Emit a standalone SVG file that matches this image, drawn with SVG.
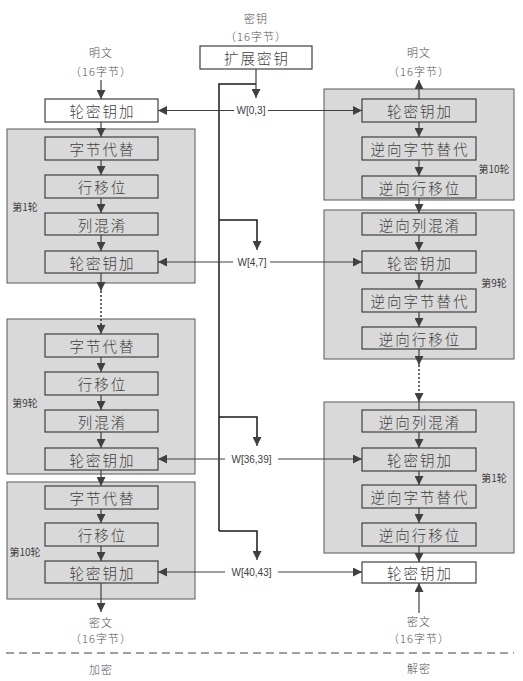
<svg xmlns="http://www.w3.org/2000/svg" width="523" height="681" viewBox="0 0 523 681">
<defs>
<marker id="ah" markerUnits="userSpaceOnUse" markerWidth="9" markerHeight="9" refX="9" refY="4.5" orient="auto">
<path d="M0,0 L9,4.5 L0,9 z" fill="#404040"/>
</marker>
<style>
.round{fill:#d9d9d9;stroke:#595959;stroke-width:1}
.op{fill:#d9d9d9;stroke:#404040;stroke-width:1.2}
.opw{fill:#ffffff;stroke:#404040;stroke-width:1.2}
.t{font-family:"Noto Sans CJK SC","Noto Sans CJK JP",sans-serif;font-size:14.5px;font-weight:300;letter-spacing:2px;fill:#404040;text-anchor:middle;dominant-baseline:central}
.s{font-family:"Noto Sans CJK SC","Noto Sans CJK JP",sans-serif;font-size:11px;font-weight:300;letter-spacing:1px;fill:#505050;text-anchor:middle;dominant-baseline:central}
.r{font-family:"Noto Sans CJK SC","Noto Sans CJK JP",sans-serif;font-size:10px;fill:#404040;text-anchor:middle;dominant-baseline:central}
.w{font-family:"Liberation Sans","Noto Sans",sans-serif;font-size:10px;fill:#404040;text-anchor:middle;dominant-baseline:central}
.c{stroke:#404040;stroke-width:1.2;fill:none}
.ca{stroke:#404040;stroke-width:1.2;fill:none;marker-end:url(#ah)}
.dot{stroke:#404040;stroke-width:1.6;fill:none;stroke-dasharray:2 2}
.key{stroke:#1a1a1a;stroke-width:1.5;fill:none}
.dash{stroke:#404040;stroke-width:1;fill:none;stroke-dasharray:8 5}
</style>
</defs>

<!-- Round containers -->
<g id="enc-round1"><rect class="round" x="7" y="129" width="188" height="154"/><text class="r" x="25" y="206">第1轮</text></g>
<g id="enc-round9"><rect class="round" x="7" y="319" width="188" height="155"/><text class="r" x="25" y="402">第9轮</text></g>
<g id="enc-round10"><rect class="round" x="7" y="482" width="188" height="117"/><text class="r" x="25" y="551">第10轮</text></g>
<g id="dec-round10"><rect class="round" x="324" y="89" width="190" height="111"/><text class="r" x="494" y="168">第10轮</text></g>
<g id="dec-round9"><rect class="round" x="324" y="210" width="190" height="149"/><text class="r" x="494" y="282">第9轮</text></g>
<g id="dec-round1"><rect class="round" x="324" y="402" width="190" height="151"/><text class="r" x="494" y="477">第1轮</text></g>

<!-- Connectors -->
<g id="connectors">
<!-- encryption column -->
<line class="ca" x1="101" y1="80" x2="101" y2="99"/>
<line class="ca" x1="101" y1="122" x2="101" y2="137"/>
<line class="ca" x1="101" y1="160" x2="101" y2="175"/>
<line class="ca" x1="101" y1="198" x2="101" y2="213"/>
<line class="ca" x1="101" y1="235" x2="101" y2="251"/>
<line class="ca" x1="101" y1="273" x2="101" y2="291"/>
<line class="dot" x1="101" y1="291" x2="101" y2="325"/>
<line class="ca" x1="101" y1="324" x2="101" y2="334"/>
<line class="ca" x1="101" y1="357" x2="101" y2="372"/>
<line class="ca" x1="101" y1="395" x2="101" y2="410"/>
<line class="ca" x1="101" y1="432" x2="101" y2="448"/>
<line class="ca" x1="101" y1="470" x2="101" y2="486"/>
<line class="ca" x1="101" y1="509" x2="101" y2="523"/>
<line class="ca" x1="101" y1="546" x2="101" y2="561"/>
<line class="ca" x1="101" y1="583" x2="101" y2="612"/>
<!-- decryption column -->
<line class="ca" x1="419" y1="99" x2="419" y2="80"/>
<line class="ca" x1="419" y1="122" x2="419" y2="137"/>
<line class="ca" x1="419" y1="160" x2="419" y2="176"/>
<line class="ca" x1="419" y1="198" x2="419" y2="213"/>
<line class="ca" x1="419" y1="235" x2="419" y2="251"/>
<line class="ca" x1="419" y1="273" x2="419" y2="289"/>
<line class="ca" x1="419" y1="312" x2="419" y2="327"/>
<line class="ca" x1="419" y1="349" x2="419" y2="365"/>
<line class="dot" x1="419" y1="365" x2="419" y2="395"/>
<line class="ca" x1="419" y1="393" x2="419" y2="402"/>
<line class="c" x1="419" y1="402" x2="419" y2="410"/>
<line class="ca" x1="419" y1="432" x2="419" y2="448"/>
<line class="ca" x1="419" y1="471" x2="419" y2="485"/>
<line class="ca" x1="419" y1="508" x2="419" y2="523"/>
<line class="ca" x1="419" y1="546" x2="419" y2="562"/>
<line class="ca" x1="419" y1="613" x2="419" y2="583"/>
<!-- key schedule -->
<line class="ca" x1="256" y1="69" x2="256" y2="98"/>
<polyline class="key" points="256,84 219,84 219,531"/>
<polyline class="key" points="219,220 257,220 257,242"/>
<line class="ca" x1="257" y1="240" x2="257" y2="250"/>
<polyline class="key" points="219,417 257,417 257,437"/>
<line class="ca" x1="257" y1="435" x2="257" y2="446"/>
<polyline class="key" points="219,531 257,531 257,551"/>
<line class="ca" x1="257" y1="549" x2="257" y2="560"/>
<!-- round key arrows -->
<line class="ca" x1="234" y1="110.5" x2="158" y2="110.5"/>
<line class="ca" x1="268" y1="110.5" x2="362" y2="110.5"/>
<line class="ca" x1="233" y1="262" x2="158" y2="262"/>
<line class="ca" x1="270" y1="262" x2="362" y2="262"/>
<line class="ca" x1="225" y1="459" x2="158" y2="459"/>
<line class="ca" x1="278" y1="459" x2="362" y2="459"/>
<line class="ca" x1="225" y1="572" x2="158" y2="572"/>
<line class="ca" x1="278" y1="572" x2="362" y2="572"/>
<!-- divider -->
<line class="dash" x1="6" y1="653" x2="514" y2="653"/>
</g>

<!-- Labels -->
<g id="key-input"><text class="s" x="256" y="18">密钥</text><text class="s" x="256" y="36">（16字节）</text></g>
<g id="pt-in"><text class="s" x="101" y="52">明文</text><text class="s" x="101" y="71">（16字节）</text></g>
<g id="pt-out"><text class="s" x="419" y="52">明文</text><text class="s" x="419" y="71">（16字节）</text></g>
<g id="ct-out"><text class="s" x="101" y="622">密文</text><text class="s" x="101" y="638">（16字节）</text></g>
<g id="ct-in"><text class="s" x="419" y="621">密文</text><text class="s" x="419" y="638">（16字节）</text></g>
<g id="enc-label"><text class="s" x="101" y="669">加密</text></g>
<g id="dec-label"><text class="s" x="419" y="668">解密</text></g>
<g id="w03"><text class="w" x="251" y="110.5">W[0,3]</text></g>
<g id="w47"><text class="w" x="252" y="262">W[4,7]</text></g>
<g id="w3639"><text class="w" x="251.5" y="459">W[36,39]</text></g>
<g id="w4043"><text class="w" x="251.5" y="572">W[40,43]</text></g>

<!-- Key expansion -->
<g id="expand-key"><rect class="opw" x="200" y="46" width="112" height="23"/><text class="t" x="257" y="57.5">扩展密钥</text></g>

<!-- Encryption nodes -->
<g id="e-ark0"><rect class="opw" x="45" y="99" width="113" height="23"/><text class="t" x="102.5" y="110.5">轮密钥加</text></g>
<g id="e1-sub"><rect class="op" x="45" y="137" width="113" height="23"/><text class="t" x="102.5" y="148.5">字节代替</text></g>
<g id="e1-shift"><rect class="op" x="45" y="175" width="113" height="23"/><text class="t" x="102.5" y="186.5">行移位</text></g>
<g id="e1-mix"><rect class="op" x="45" y="213" width="113" height="22"/><text class="t" x="102.5" y="224">列混淆</text></g>
<g id="e1-ark"><rect class="op" x="45" y="251" width="113" height="22"/><text class="t" x="102.5" y="262">轮密钥加</text></g>
<g id="e9-sub"><rect class="op" x="45" y="334" width="113" height="23"/><text class="t" x="102.5" y="345.5">字节代替</text></g>
<g id="e9-shift"><rect class="op" x="45" y="372" width="113" height="23"/><text class="t" x="102.5" y="383.5">行移位</text></g>
<g id="e9-mix"><rect class="op" x="45" y="410" width="113" height="22"/><text class="t" x="102.5" y="421">列混淆</text></g>
<g id="e9-ark"><rect class="op" x="45" y="448" width="113" height="22"/><text class="t" x="102.5" y="459">轮密钥加</text></g>
<g id="e10-sub"><rect class="op" x="45" y="486" width="113" height="23"/><text class="t" x="102.5" y="497.5">字节代替</text></g>
<g id="e10-shift"><rect class="op" x="45" y="523" width="113" height="23"/><text class="t" x="102.5" y="534.5">行移位</text></g>
<g id="e10-ark"><rect class="op" x="45" y="561" width="113" height="22"/><text class="t" x="102.5" y="572">轮密钥加</text></g>

<!-- Decryption nodes -->
<g id="d10-ark"><rect class="op" x="362" y="99" width="114" height="23"/><text class="t" x="420" y="110.5">轮密钥加</text></g>
<g id="d10-sub"><rect class="op" x="362" y="137" width="114" height="23"/><text class="t" x="420" y="148.5">逆向字节替代</text></g>
<g id="d10-shift"><rect class="op" x="362" y="176" width="114" height="22"/><text class="t" x="420" y="187">逆向行移位</text></g>
<g id="d9-mix"><rect class="op" x="362" y="213" width="114" height="22"/><text class="t" x="420" y="224">逆向列混淆</text></g>
<g id="d9-ark"><rect class="op" x="362" y="251" width="114" height="22"/><text class="t" x="420" y="262">轮密钥加</text></g>
<g id="d9-sub"><rect class="op" x="362" y="289" width="114" height="23"/><text class="t" x="420" y="300.5">逆向字节替代</text></g>
<g id="d9-shift"><rect class="op" x="362" y="327" width="114" height="22"/><text class="t" x="420" y="338">逆向行移位</text></g>
<g id="d1-mix"><rect class="op" x="362" y="410" width="114" height="22"/><text class="t" x="420" y="421">逆向列混淆</text></g>
<g id="d1-ark"><rect class="op" x="362" y="448" width="114" height="23"/><text class="t" x="420" y="459.5">轮密钥加</text></g>
<g id="d1-sub"><rect class="op" x="362" y="485" width="114" height="23"/><text class="t" x="420" y="496.5">逆向字节替代</text></g>
<g id="d1-shift"><rect class="op" x="362" y="523" width="114" height="23"/><text class="t" x="420" y="534.5">逆向行移位</text></g>
<g id="d-final-ark"><rect class="opw" x="362" y="562" width="114" height="21"/><text class="t" x="420" y="572.5">轮密钥加</text></g>
</svg>
